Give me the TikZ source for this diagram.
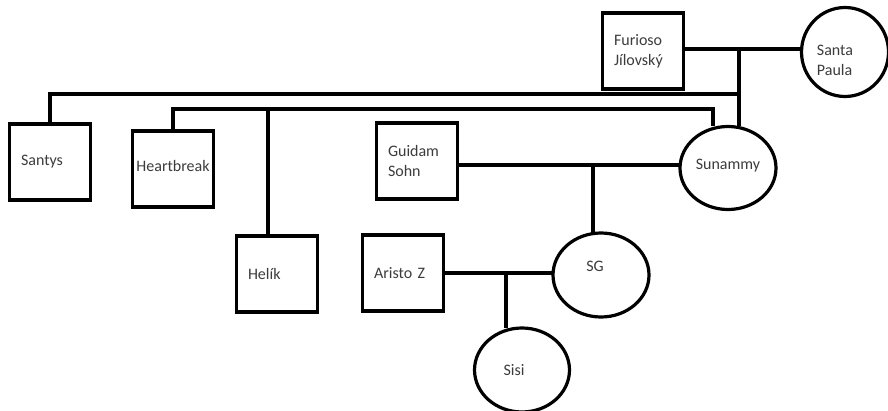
\documentclass[tikz,border=0pt]{standalone}
\usepackage{fontspec}
\setmainfont{Carlito}
\usepackage{tikz}
\usetikzlibrary{shapes.geometric, backgrounds}
\definecolor{cInk}{RGB}{60,60,60}
\tikzset{
	mbox/.style ={rectangle, draw=black, line width=3.2pt, fill=white, minimum width=81pt, minimum height=76pt, text width=58pt, align=left, inner sep=0pt, text=cInk, font=\fontsize{16}{20}\selectfont},
	fell/.style ={ellipse, draw=black, line width=3.2pt, fill=white, inner sep=0pt},
	lbl/.style  ={align=left, text=cInk, font=\fontsize{16}{20}\selectfont},
	link/.style ={line width=3.2pt, line cap=rect},
}

\begin{document}
\begin{tikzpicture}[x=1pt, y=-1pt]
	\useasboundingbox (0,0) rectangle (888,411);
	% parents
	\node[mbox] (fur) at (643,51) {\raisebox{-4pt}{\parbox{58pt}{Furioso\\ Jílovský}}};
	\node[fell, minimum width=87pt, minimum height=89pt,
		label={[lbl, xshift=-10pt, yshift=-8pt]center:Santa\\ Paula}] (sp) at (845,52) {};
	% children
	\node[mbox] (santys) at (50,162) {Santys};
	\node[mbox, text width=81pt, align=center] (heart) at (173,169) {\raisebox{6pt}{Heartbreak}};
	\node[mbox] (hel) at (277,274) {\raisebox{-4pt}{Helík}};
	\node[fell, minimum width=96pt, minimum height=83pt,
		label={[lbl, yshift=2pt]center:Sunammy}] (sun) at (728,168) {};
	\node[mbox] (guid) at (417,161) {Guidam\\ Sohn};
	\node[fell, minimum width=96pt, minimum height=84pt,
		label={[lbl, xshift=-6pt, yshift=9pt]center:SG}] (sg) at (601,275) {};
	\node[mbox] (ar) at (403,273) {Aristo Z};
	\node[fell, minimum width=95pt, minimum height=84pt,
		label={[lbl, xshift=-8pt]center:Sisi}] (sisi) at (522,370) {};
	% joints
	\coordinate (fs) at (739,49);
	\coordinate (r1) at (739,94);
	\coordinate (r2) at (713,109);
	\coordinate (hk) at (268,109);
	\coordinate (gsx) at (593,165);
	\coordinate (as) at (506,273);
	\begin{scope}[on background layer]
		\draw[link] (fs -| fur.east) -- (fs -| sp.west);
		\draw[link] (fs) -- (fs |- sun.north);
		\draw[link] (r1) -| (santys.north);
		\draw[link] (r2 |- sun.north) -- (r2) -| (heart.north);
		\draw[link] (hk) -- (hk |- hel.north);
		\draw[link] (gsx -| guid.east) -- (gsx -| sun.west);
		\draw[link] (gsx) -- (gsx |- sg.north);
		\draw[link] (as -| ar.east) -- (as -| sg.west);
		\draw[link] (as) -- (as |- sisi.north);
	\end{scope}
\end{tikzpicture}
\end{document}
